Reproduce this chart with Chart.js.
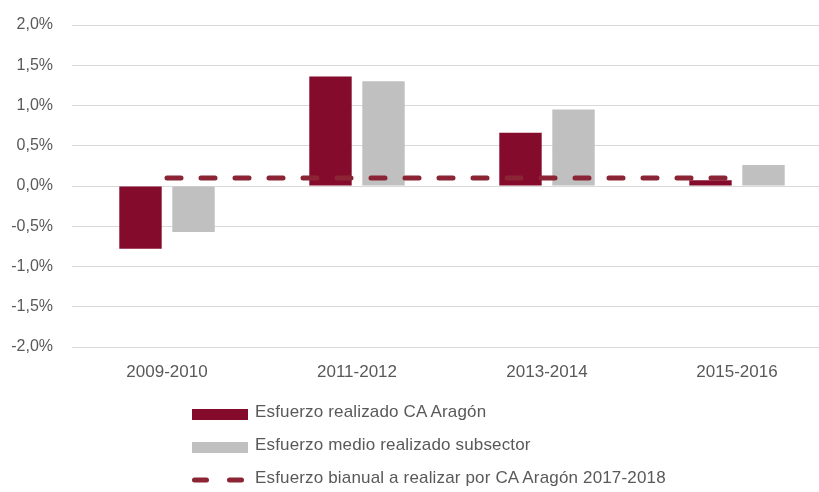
<!DOCTYPE html>
<html>
<head>
<meta charset="utf-8">
<script src="https://cdn.jsdelivr.net/npm/chart.js@4/dist/chart.umd.min.js"></script>
<style>
	html, body { margin: 0; padding: 0; background: #fff; overflow: hidden; }
	#wrap { position: relative; width: 819px; height: 492px; overflow: hidden; }
	#chart { position: absolute; left: 0; top: 0; }
	#legend { position: absolute; left: 0; top: 0; font-family: 'Liberation Sans', Arial, sans-serif; font-size: 17px; color: #595959; letter-spacing: 0.16px; }
	.lgRow { position: absolute; left: 192px; height: 32px; display: flex; align-items: center; white-space: nowrap; }
	.lgSwatch { width: 56px; height: 11px; margin-top: 4px; margin-right: 7px; }
</style>
</head>
<body>
<div id="wrap">
	<canvas id="chart" width="840" height="400"></canvas>
	<div id="legend"></div>
</div>
<script>
// valores (en %)
const categories = ['2009-2010', '2011-2012', '2013-2014', '2015-2016']
const esfuerzoAragon = [-0.78, 1.36, 0.66, 0.07]
const esfuerzoSubsector = [-0.57, 1.30, 0.95, 0.26]
const esfuerzoObjetivo = [0.1, 0.1, 0.1, 0.1]
const seriesNames = [
	'Esfuerzo realizado CA Aragón',
	'Esfuerzo medio realizado subsector',
	'Esfuerzo bianual a realizar por CA Aragón 2017-2018',
]

const colRed   = '#850b2c'
const colGrey  = '#c0c0c0'
const colLine  = '#8b2434'
const colText  = '#595959'
const fontName = "'Liberation Sans', Arial, sans-serif"

const pctFmt = (v) => `${Number(v).toFixed(1).replace('.', ',')}%`

const chart = new Chart(document.getElementById('chart'), {
	type : 'bar',
	data : {
		labels   : categories,
		datasets : [
			{
				label              : seriesNames[0],
				data               : esfuerzoAragon,
				backgroundColor    : colRed,
				categoryPercentage : 0.558,
				barPercentage      : 0.80,
				order              : 1,
			},
			{
				label              : seriesNames[1],
				data               : esfuerzoSubsector,
				backgroundColor    : colGrey,
				categoryPercentage : 0.558,
				barPercentage      : 0.80,
				order              : 1,
			},
			{
				type           : 'line',
				label          : seriesNames[2],
				data           : esfuerzoObjetivo,
				borderColor    : colLine,
				backgroundColor: colLine,
				borderWidth    : 5,
				borderDash     : [14, 20],
				borderCapStyle : 'round',
				pointRadius    : 0,
				fill           : false,
				order          : 0,
			},
		],
	},
	options : {
		responsive : false,
		animation  : false,
		layout     : { padding : { top : 25, right : 8, left : 0, bottom : 0 } },
		plugins    : {
			legend  : { display : false },
			tooltip : { enabled : false },
		},
		scales : {
			x : {
				grid   : { display : false },
				border : { display : false },
				ticks  : {
					color : colText,
					font  : { family : fontName, size : 17 },
					padding : 7,
				},
				afterFit : (scale) => { scale.height = 53 },
			},
			y : {
				min    : -2,
				max    : 2,
				grid   : { color : '#d9d9d9', lineWidth : 1, drawTicks : false },
				border : { display : false },
				ticks  : {
					stepSize : 0.5,
					color    : colText,
					font     : { family : fontName, size : 16 },
					padding  : 19,
					callback : (v) => pctFmt(v),
				},
				afterFit : (scale) => {
					scale.width = 72
					scale.paddingTop = 0
					scale.paddingBottom = 0
				},
			},
		},
	},
})

// leyenda vertical debajo del grafico
const legendEl = document.getElementById('legend')
chart.data.datasets.forEach((ds, i) => {
	const row = document.createElement('div')
	row.className = 'lgRow'
	row.style.top = `${396 + i * 33}px`
	let swatch
	if ( ds.type === 'line' ) {
		swatch = `<svg class="lgSwatch" style="height:12px" width="56" height="12"><line x1="2.5" y1="6" x2="50" y2="6" stroke="${ds.borderColor}" stroke-width="5" stroke-linecap="round" stroke-dasharray="12 23"/></svg>`
	} else {
		swatch = `<div class="lgSwatch" style="background:${ds.backgroundColor}"></div>`
	}
	row.innerHTML = `${swatch}<span>${ds.label}</span>`
	legendEl.appendChild(row)
})
</script>
</body>
</html>
